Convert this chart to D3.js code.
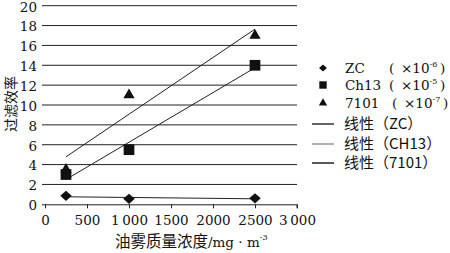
<!DOCTYPE html>
<html>
<head>
<meta charset="utf-8">
<script src="https://cdn.jsdelivr.net/npm/d3@7"></script>
<style>
  body { margin: 0; background: #fff; }
  svg { display: block; }
  text { font-family: "DejaVu Serif", serif; fill: #111; }
  .num { font-family: "DejaVu Serif", serif; }
  .cjk { font-family: "Noto Sans CJK SC", sans-serif; }
</style>
</head>
<body>
<svg id="chart" width="450" height="253"></svg>
<script>
// concentration values (mg/m^3)
var concentration = [250, 1000, 2500];
var zcValues = [0.85, 0.55, 0.6];
var ch13Values = [3.0, 5.5, 14.0];
var s7101Values = [3.5, 11.0, 17.0];

var xTicks = [0, 500, 1000, 1500, 2000, 2500, 3000];
var xTickLabels = ['0', '500', '1\u2009000', '1500', '2000', '2500', '3\u2009000'];
var yTicks = [0, 2, 4, 6, 8, 10, 12, 14, 16, 18, 20];

var diamond = {
  draw: function(ctx, size) {
    var r = Math.sqrt(size / 2);
    ctx.moveTo(0, -r * 0.95);
    ctx.lineTo(r * 1.05, 0);
    ctx.lineTo(0, r * 0.95);
    ctx.lineTo(-r * 1.05, 0);
    ctx.closePath();
  }
};

var series = [
  { name: 'ZC', unit: '-6', values: zcValues, symbol: diamond, size: 60, legendSize: 28, fit: '线性（ZC）', fitColor: '#333' },
  { name: 'Ch13', unit: '-5', values: ch13Values, symbol: d3.symbolSquare, size: 115, legendSize: 55, fit: '线性（CH13）', fitColor: '#999' },
  { name: '7101', unit: '-7', values: s7101Values, symbol: d3.symbolTriangle, size: 55, legendSize: 30, fit: '线性（7101）', fitColor: '#222' }
];

var svg = d3.select('#chart');

var x = d3.scaleLinear().domain([0, 3000]).range([45, 297]);
var y = d3.scaleLinear().domain([0, 20]).range([204.3, 5.7]);

// gridlines
svg.append('g')
  .selectAll('line')
  .data(yTicks.slice(1))
  .join('line')
  .attr('x1', x(0) - 3)
  .attr('x2', x(3000))
  .attr('y1', d => y(d))
  .attr('y2', d => y(d))
  .attr('stroke', '#222')
  .attr('stroke-width', 1);

// x axis
var xAxis = svg.append('g')
  .attr('transform', `translate(0, ${y(0)})`)
  .call(d3.axisBottom(x).tickValues(xTicks).tickSize(4).tickFormat((d, i) => xTickLabels[i]));
xAxis.select('.domain').attr('stroke', '#222').attr('d', `M${x(0) - 3},0.5H${x(3000)}V4`);
xAxis.selectAll('.tick line').attr('stroke', '#222');
xAxis.selectAll('.tick text')
  .attr('class', 'num')
  .attr('dy', '1.05em')
  .style('font-size', '13.5px')
  .attr('fill', '#111');

// y axis labels
var yAxis = svg.append('g')
  .attr('transform', `translate(${x(0) - 3}, 0)`)
  .call(d3.axisLeft(y).tickValues(yTicks).tickSize(0).tickPadding(5));
yAxis.select('.domain').remove();
yAxis.selectAll('.tick text')
  .attr('class', 'num')
  .attr('dy', '0.4em')
  .style('font-size', '13.5px')
  .attr('fill', '#111');

// linear fits
function fit(xs, ys) {
  var mx = d3.mean(xs), my = d3.mean(ys);
  var sxy = d3.sum(xs, (v, i) => (v - mx) * (ys[i] - my));
  var sxx = d3.sum(xs, v => (v - mx) * (v - mx));
  var b = sxy / sxx;
  return v => my + b * (v - mx);
}

var line = d3.line().x(d => x(d[0])).y(d => y(d[1]));
var xMin = d3.min(concentration), xMax = d3.max(concentration);

series.forEach(s => {
  var f = fit(concentration, s.values);
  svg.append('path')
    .attr('d', line([[xMin, f(xMin)], [xMax, f(xMax)]]))
    .attr('fill', 'none')
    .attr('stroke', '#222')
    .attr('stroke-width', 1);
});

// markers
series.forEach(s => {
  svg.append('g')
    .selectAll('path')
    .data(s.values)
    .join('path')
    .attr('transform', (d, i) => `translate(${x(concentration[i])}, ${y(d)})`)
    .attr('d', d3.symbol().type(s.symbol).size(s.size))
    .attr('fill', '#111');
});

// legend
var legend = svg.append('g');
var rowY = [68, 85, 103];
var parenX = [389, 389, 392];
series.forEach((s, i) => {
  legend.append('path')
    .attr('transform', `translate(323, ${rowY[i]})`)
    .attr('d', d3.symbol().type(s.symbol).size(s.legendSize))
    .attr('fill', '#111');
  legend.append('text')
    .attr('class', 'num')
    .attr('x', 345)
    .attr('y', rowY[i] + 5)
    .style('font-size', '13.5px')
    .text(s.name);
  legend.append('text')
    .attr('class', 'num')
    .attr('x', parenX[i])
    .attr('y', rowY[i] + 5)
    .style('font-size', '13.5px')
    .text('(');
  var t = legend.append('text')
    .attr('class', 'num')
    .attr('x', parenX[i] + 12)
    .attr('y', rowY[i] + 5)
    .style('font-size', '13.5px');
  t.append('tspan').text('×10');
  t.append('tspan').attr('dy', -6).style('font-size', '8px').text(s.unit);
  legend.append('text')
    .attr('class', 'num')
    .attr('x', parenX[i] + 51)
    .attr('y', rowY[i] + 5)
    .style('font-size', '13.5px')
    .text(')');
});
var fitY = [124, 144, 163];
series.forEach((s, i) => {
  legend.append('line')
    .attr('x1', 312).attr('x2', 334)
    .attr('y1', fitY[i]).attr('y2', fitY[i])
    .attr('stroke', s.fitColor)
    .attr('stroke-width', 1.5);
  legend.append('text')
    .attr('x', 344)
    .attr('y', fitY[i] + 5)
    .style('font-size', '15px')
    .attr('class', 'cjk')
    .text(s.fit);
});

// axis titles
svg.append('text')
  .attr('class', 'cjk')
  .attr('transform', 'translate(11, 104) rotate(-90)')
  .attr('text-anchor', 'middle')
  .attr('dy', '0.35em')
  .style('font-size', '14px')
  .text('过滤效率');

var xt = svg.append('text')
  .attr('x', 115)
  .attr('y', 247);
xt.append('tspan').attr('class', 'cjk').style('font-size', '15.5px').text('油雾质量浓度');
xt.append('tspan').attr('class', 'num').style('font-size', '13.5px').text('/mg · m');
xt.append('tspan').attr('dy', -7).style('font-size', '8px').text('-3');
</script>
</body>
</html>
